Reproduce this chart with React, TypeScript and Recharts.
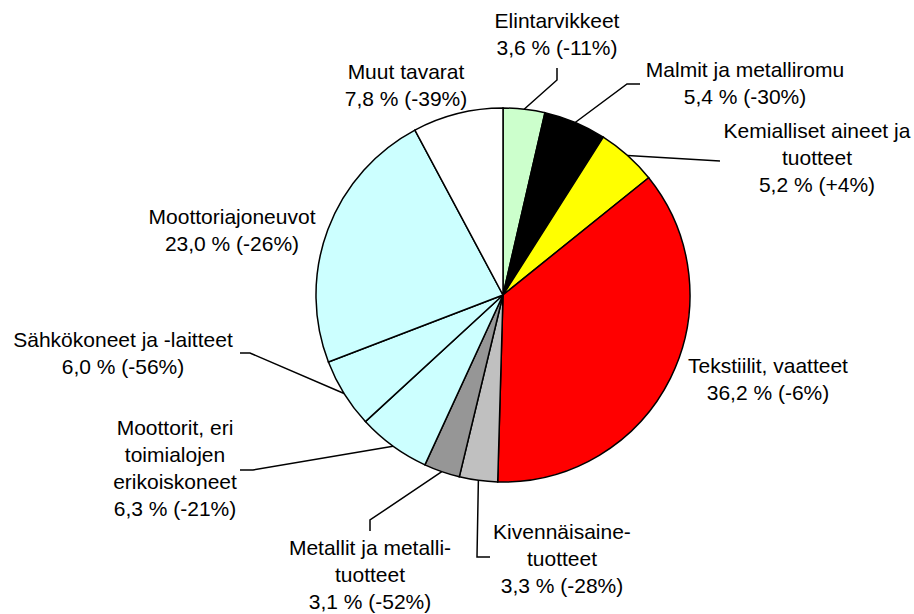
import React from 'react';
import { PieChart, Pie, Cell } from 'recharts';

const categories = [
  ['Elintarvikkeet'],
  ['Malmit ja metalliromu'],
  ['Kemialliset aineet ja', 'tuotteet'],
  ['Tekstiilit, vaatteet'],
  ['Kivennäisaine-', 'tuotteet'],
  ['Metallit ja metalli-', 'tuotteet'],
  ['Moottorit, eri', 'toimialojen', 'erikoiskoneet'],
  ['Sähkökoneet ja -laitteet'],
  ['Moottoriajoneuvot'],
  ['Muut tavarat'],
];
const shares = [3.6, 5.4, 5.2, 36.2, 3.3, 3.1, 6.3, 6.0, 23.0, 7.8];
const changes = [-11, -30, 4, -6, -28, -52, -21, -56, -26, -39];
const colors = ['#CCFFCC', '#000000', '#FFFF00', '#FF0000', '#C0C0C0', '#969696', '#CCFFFF', '#CCFFFF', '#CCFFFF', '#FFFFFF'];

// label placement (page coords): text centre x, first line centre y, leader line bends
const labelLayout: { x: number; y: number; leader: number[][] }[] = [
  { x: 557, y: 21, leader: [[557, 80], [557, 68]] },
  { x: 745, y: 70, leader: [[627, 84], [640, 84]] },
  { x: 817, y: 131, leader: [[720, 161]] },
  { x: 768, y: 366, leader: [] },
  { x: 562, y: 532, leader: [[477, 557], [490, 557]] },
  { x: 370, y: 548, leader: [[370, 520], [370, 531]] },
  { x: 175, y: 428, leader: [[253, 470], [240, 470]] },
  { x: 123, y: 340, leader: [[250, 353], [240, 353]] },
  { x: 232, y: 217, leader: [] },
  { x: 406, y: 72, leader: [] },
];

const data = categories.map((lines, i) => ({
  name: lines.join(' '),
  lines,
  value: shares[i],
  change: changes[i],
}));

const fmt = (share: number, change: number) =>
  `${share.toFixed(1).replace('.', ',')} % (${change > 0 ? '+' : ''}${change}%)`;

const RADIAN = Math.PI / 180;

const renderLabel = (props: any) => {
  const { cx, cy, midAngle, outerRadius, index } = props;
  const d = data[index];
  const lay = labelLayout[index];
  const px = cx + outerRadius * Math.cos(-midAngle * RADIAN);
  const py = cy + outerRadius * Math.sin(-midAngle * RADIAN);
  const lines = [...d.lines, fmt(d.value, d.change)];
  const pts = [[px, py], ...lay.leader];
  return (
    <g key={`lbl-${index}`}>
      {lay.leader.length > 0 && (
        <polyline
          points={pts.map((p) => p.join(',')).join(' ')}
          fill="none"
          stroke="#000"
          strokeWidth={1.5}
        />
      )}
      <text
        x={lay.x}
        y={lay.y}
        textAnchor="middle"
        fontFamily="'Liberation Sans', Arial, sans-serif"
        fontSize={21}
        fill="#000"
      >
        {lines.map((t, j) => (
          <tspan key={j} x={lay.x} y={lay.y + j * 27 + 7}>
            {t}
          </tspan>
        ))}
      </text>
    </g>
  );
};

export default function App() {
  return (
    <div style={{ position: 'absolute', left: 0, top: 0, width: 914, height: 614, background: '#fff' }}>
      <PieChart width={914} height={614} margin={{ top: 0, right: 0, bottom: 0, left: 0 }}>
        <Pie
          data={data}
          dataKey="value"
          cx={503}
          cy={295}
          outerRadius={187}
          startAngle={90}
          endAngle={-270}
          stroke="#000"
          strokeWidth={1.5}
          label={renderLabel}
          labelLine={false}
          isAnimationActive={false}
        >
          {data.map((_, i) => (
            <Cell key={`c-${i}`} fill={colors[i]} />
          ))}
        </Pie>
      </PieChart>
    </div>
  );
}
